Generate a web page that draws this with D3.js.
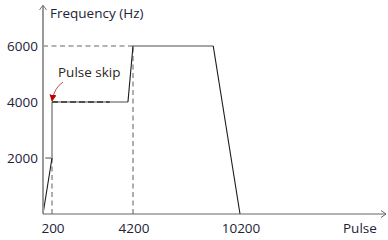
<!DOCTYPE html>
<html><head><meta charset="utf-8">
<script src="https://cdn.jsdelivr.net/npm/d3@7"></script>
<style>body{margin:0;background:#fff}svg{display:block}text{font-family:"Open Sans",sans-serif}</style>
</head><body>
<svg id="c" width="388" height="240"></svg>
<script>
// Data
const xTicks = [200, 4200, 10200];
const yTicks = [2000, 4000, 6000];
const xLabel = "Pulse";
const yLabel = "Frequency (Hz)";
const note = "Pulse skip";
// actual (black) profile segments
const accelStart = [[0, 0], [200, 2000]];
const accelJump = [[3950, 4000], [4200, 6000]];
const decel = [[8700, 6000], [10200, 0]];
const skipDash = [[200, 4000], [3050, 4000]];
// planned (grey solid) segments
const step2000 = [[50, 2000], [200, 2000]];
const stepUp = [[200, 2000], [200, 4000]];
const flat4000 = [[200, 4000], [3950, 4000]];
const flat6000 = [[4200, 6000], [8700, 6000]];
// guides (grey dashed)
const guide200 = [[200, 0], [200, 2000]];
const guide4200 = [[4200, 0], [4200, 6000]];
const guide6000 = [[0, 6000], [4200, 6000]];
const noteAt = [200, 4000];

const svg = d3.select("#c");
// schematic (piecewise) x axis
const x = d3.scaleLinear().domain([0, 200, 4200, 10200, 17000]).range([43, 52, 133, 240, 386]);
const y = d3.scaleLinear().domain([0, 6000]).range([214, 46]);
const line = d3.line().x(d => x(d[0])).y(d => y(d[1]));

function draw(data, color, w, dash) {
  const p = svg.append("path").attr("d", line(data)).attr("fill", "none")
    .attr("stroke", color).attr("stroke-width", w);
  if (dash) p.attr("stroke-dasharray", dash);
}
// guides
[guide200, guide4200, guide6000].forEach(d => draw(d, "#9a9a9a", 1.6, "5,3.5"));
// grey planned
[step2000, stepUp, flat4000, flat6000].forEach(d => draw(d, "#a6a6a6", 2));
// black actual
[accelStart, accelJump, decel].forEach(d => draw(d, "#1a1a1a", 1.1));
draw(skipDash, "#333", 1.6, "6,3");

// axes
const x0 = x.range()[0], y0 = y.range()[0];
svg.append("line").attr("x1", x0).attr("y1", y0).attr("x2", x0).attr("y2", 6)
  .attr("stroke", "#9a9a9a").attr("stroke-width", 2);
svg.append("path").attr("d", `M${x0-3.5},10L${x0},5L${x0+3.5},10`).attr("fill", "none")
  .attr("stroke", "#777").attr("stroke-width", 1);
const xEnd = x.range()[x.range().length - 1];
svg.append("line").attr("x1", x0).attr("y1", y0).attr("x2", xEnd).attr("y2", y0)
  .attr("stroke", "#666").attr("stroke-width", 1.2);
svg.append("path").attr("d", `M${xEnd-5},${y0-3.5}L${xEnd},${y0}L${xEnd-5},${y0+3.5}`).attr("fill", "none")
  .attr("stroke", "#666").attr("stroke-width", 1);

// tick labels
const txt = "#1c2438";
const fs = 13.5;
svg.selectAll(".yt").data(yTicks).join("text").attr("x", 38).attr("y", d => y(d) + 5)
  .attr("text-anchor", "end").attr("font-size", fs).attr("fill", txt).text(d => d);
svg.selectAll(".xt").data(xTicks).join("text").attr("x", d => x(d) + 1).attr("y", 233)
  .attr("text-anchor", "middle").attr("font-size", fs).attr("fill", txt).text(d => d);
svg.append("text").attr("x", 343).attr("y", 233).attr("font-size", fs).attr("fill", txt).text(xLabel);
svg.append("text").attr("x", 50).attr("y", 18).attr("font-size", fs).attr("fill", txt).text(yLabel);

// annotation
svg.append("defs").append("marker").attr("id", "ah").attr("viewBox", "0 0 10 10")
  .attr("refX", 9).attr("refY", 5).attr("markerWidth", 7).attr("markerHeight", 7)
  .attr("markerUnits", "userSpaceOnUse")
  .attr("orient", "auto").append("path").attr("d", "M0,0L10,5L0,10z").attr("fill", "#c00000");
const ax = x(noteAt[0]), ay = y(noteAt[1]);
svg.append("path").attr("d", `M${ax+11},${ay-20}Q${ax+2},${ay-14} ${ax},${ay-1}`)
  .attr("fill", "none").attr("stroke", "#c0504d").attr("stroke-width", 1).attr("marker-end", "url(#ah)");
svg.append("text").attr("x", 58).attr("y", 77).attr("font-size", fs).attr("fill", "#2e2620").text(note);
</script>
</body></html>
